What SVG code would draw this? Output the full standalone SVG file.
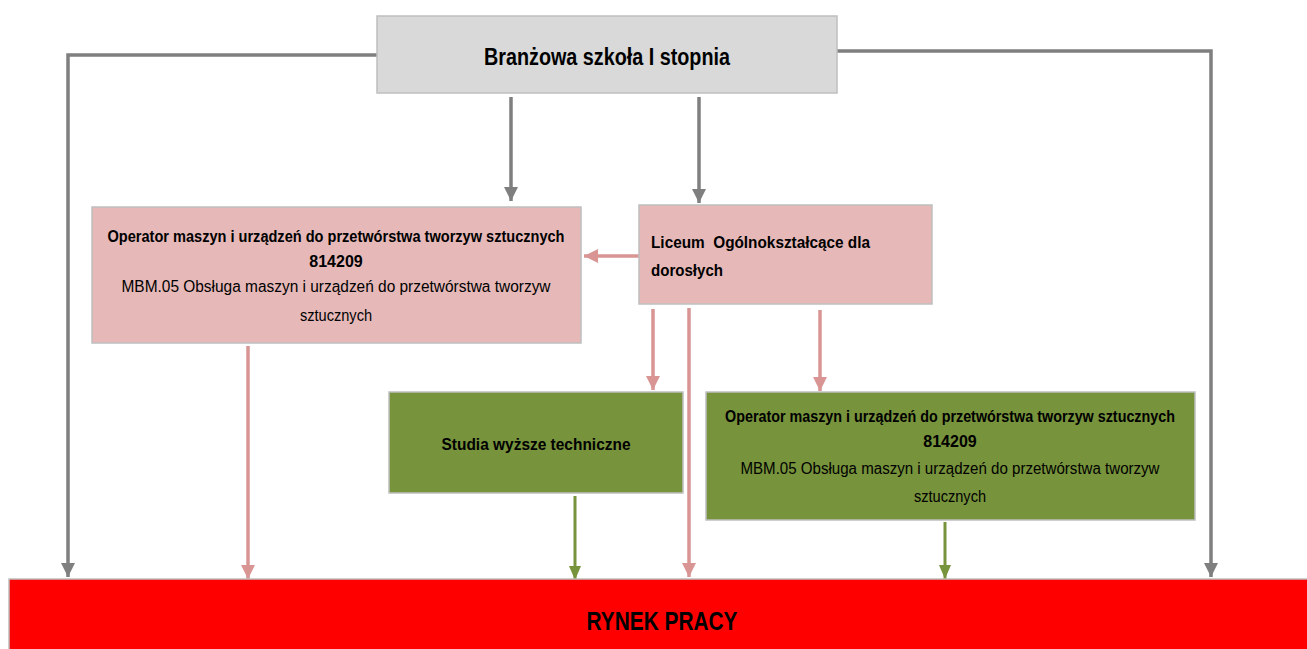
<svg xmlns="http://www.w3.org/2000/svg" width="1307" height="649" viewBox="0 0 1307 649">
<style>
text{font-family:"Liberation Sans",Arial,sans-serif;fill:#000}
.b{font-weight:bold}
.box{stroke:#bfbfbf;stroke-width:1.5}
.g{stroke:#7f7f7f;stroke-width:3.5;fill:none}
.p{stroke:#d99594;stroke-width:3.5;fill:none}
.v{stroke:#77933c;stroke-width:3;fill:none}
</style>
<defs>
<marker id="ag" markerUnits="userSpaceOnUse" markerWidth="14" markerHeight="16" viewBox="0 0 14 16" refX="14" refY="8" orient="auto"><path d="M0,1 L14,8 L0,15 Z" fill="#7f7f7f"/></marker>
<marker id="ap" markerUnits="userSpaceOnUse" markerWidth="14" markerHeight="16" viewBox="0 0 14 16" refX="14" refY="8" orient="auto"><path d="M0,1 L14,8 L0,15 Z" fill="#d99594"/></marker>
<marker id="av" markerUnits="userSpaceOnUse" markerWidth="14" markerHeight="14" viewBox="0 0 14 14" refX="14" refY="7" orient="auto"><path d="M0,1 L14,7 L0,13 Z" fill="#77933c"/></marker>
</defs>
<rect width="1307" height="649" fill="#fff"/>

<g id="connectors">
<path class="g" d="M377,55 H68 V577" marker-end="url(#ag)"/>
<path class="g" d="M837,51 H1211 V577" marker-end="url(#ag)"/>
<path class="g" d="M511,97 V201" marker-end="url(#ag)"/>
<path class="g" d="M699,97 V203" marker-end="url(#ag)"/>
<path class="p" d="M639,256 H584" marker-end="url(#ap)"/>
<path class="p" d="M653,309 V390" marker-end="url(#ap)"/>
<path class="p" d="M820,310 V391" marker-end="url(#ap)"/>
<path class="p" d="M689,308 V577" marker-end="url(#ap)"/>
<path class="p" d="M248,346 V579" marker-end="url(#ap)"/>
<path class="v" d="M575,496 V580" marker-end="url(#av)"/>
<path class="v" d="M945,522 V579" marker-end="url(#av)"/>
</g>

<g id="branzowa">
<rect class="box" x="377" y="16" width="460" height="77" fill="#d9d9d9"/>
<text class="b" x="607" y="65" font-size="23" text-anchor="middle" textLength="246" lengthAdjust="spacingAndGlyphs">Branżowa szkoła I stopnia</text>
</g>

<g id="operator-left">
<rect class="box" x="92" y="207" width="489" height="136" fill="#e6b9b8"/>
<text class="b" x="336" y="242" font-size="16" text-anchor="middle" textLength="457" lengthAdjust="spacingAndGlyphs">Operator maszyn i urządzeń do przetwórstwa tworzyw sztucznych</text>
<text class="b" x="336" y="267" font-size="16" text-anchor="middle">814209</text>
<text x="336" y="292" font-size="16" text-anchor="middle" textLength="429" lengthAdjust="spacingAndGlyphs">MBM.05 Obsługa maszyn i urządzeń do przetwórstwa tworzyw</text>
<text x="336" y="321" font-size="16" text-anchor="middle" textLength="72" lengthAdjust="spacingAndGlyphs">sztucznych</text>
</g>

<g id="liceum">
<rect class="box" x="639" y="205" width="293" height="99" fill="#e6b9b8"/>
<text class="b" x="651" y="248" font-size="17" textLength="219" lengthAdjust="spacingAndGlyphs" xml:space="preserve">Liceum  Ogólnokształcące dla</text>
<text class="b" x="651" y="276" font-size="17" textLength="72" lengthAdjust="spacingAndGlyphs">dorosłych</text>
</g>

<g id="studia">
<rect class="box" x="389" y="392" width="294" height="101" fill="#77933c"/>
<text class="b" x="536" y="450" font-size="17" text-anchor="middle" textLength="189" lengthAdjust="spacingAndGlyphs">Studia wyższe techniczne</text>
</g>

<g id="operator-right">
<rect class="box" x="706" y="392" width="489" height="128" fill="#77933c"/>
<text class="b" x="950" y="422" font-size="16" text-anchor="middle" textLength="450" lengthAdjust="spacingAndGlyphs">Operator maszyn i urządzeń do przetwórstwa tworzyw sztucznych</text>
<text class="b" x="950" y="447" font-size="16" text-anchor="middle">814209</text>
<text x="950" y="474" font-size="16" text-anchor="middle" textLength="419" lengthAdjust="spacingAndGlyphs">MBM.05 Obsługa maszyn i urządzeń do przetwórstwa tworzyw</text>
<text x="950" y="502" font-size="16" text-anchor="middle" textLength="72" lengthAdjust="spacingAndGlyphs">sztucznych</text>
</g>

<g id="rynek">
<rect x="9" y="579" width="1310" height="80" fill="#ff0000" stroke="#bfbfbf" stroke-width="1.5"/>
<text class="b" x="662" y="630" font-size="25" text-anchor="middle" textLength="151" lengthAdjust="spacingAndGlyphs">RYNEK PRACY</text>
</g>
</svg>
